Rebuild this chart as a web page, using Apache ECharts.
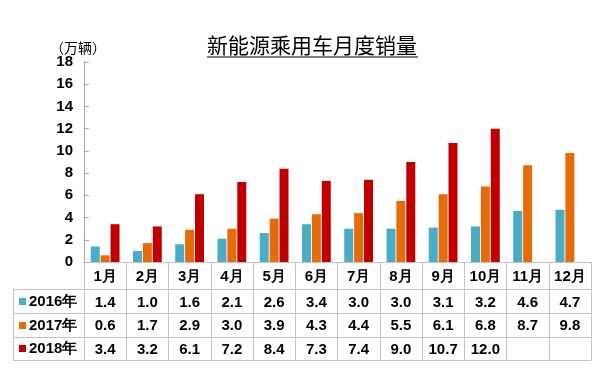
<!DOCTYPE html>
<html>
<head>
<meta charset="utf-8">
<script src="https://cdn.jsdelivr.net/npm/echarts@6/dist/echarts.min.js"></script>
<style>
html,body{margin:0;padding:0;background:#fff;}
#chart{width:600px;height:369px;}
</style>
</head>
<body>
<div id="chart"></div>
<script>
var months = ['1月','2月','3月','4月','5月','6月','7月','8月','9月','10月','11月','12月'];
var seriesNames = ['2016年','2017年','2018年'];
var s2016 = [1.4,1.0,1.6,2.1,2.6,3.4,3.0,3.0,3.1,3.2,4.6,4.7];
var s2017 = [0.6,1.7,2.9,3.0,3.9,4.3,4.4,5.5,6.1,6.8,8.7,9.8];
var s2018 = [3.4,3.2,6.1,7.2,8.4,7.3,7.4,9.0,10.7,12.0,null,null];
var yTicks = {min:0, max:18, interval:2};
var colors = ['#4bacc6','#e46c0a','#c00000'];
var titleText = '新能源乘用车月度销量';
var unitText = '（万辆）';

var chart = echarts.init(document.getElementById('chart'), null, {renderer:'canvas'});
var lineColor = '#c4c4c4';
var labelFont = {fontFamily:'Liberation Sans, Arial, sans-serif', fontWeight:'bold', fontSize:15, color:'#000'};
function fmt(v){ return v == null ? '' : v.toFixed(1); }
function valueAxis(data, offset, margin){
  return {
    type:'category', gridIndex:0, position:'bottom', offset:offset,
    data:data.map(fmt),
    axisLine:{show:true, lineStyle:{color:lineColor, width:1}},
    axisTick:{show:false},
    axisLabel:Object.assign({interval:0, margin:margin}, labelFont)
  };
}
var allData = [s2016, s2017, s2018];
var rowTops = [294, 318, 341];
var option = {
  animation:false,
  backgroundColor:'#fff',
  color:colors,
  title:[
    {text:titleText, left:207, top:35, padding:0,
     textStyle:{fontFamily:'Noto Sans CJK SC', fontSize:21, fontWeight:'normal', color:'#000'}},
    {text:unitText, left:50, top:41, padding:0,
     textStyle:{fontFamily:'Noto Sans CJK SC', fontSize:14, fontWeight:'normal', color:'#000'}}
  ],
  legend: seriesNames.map(function(n,i){
    return {data:[n], left:19, top:rowTops[i], padding:0, itemWidth:7, itemHeight:7, icon:'rect',
      selectedMode:false,
      textStyle:Object.assign({padding:[0,0,0,-2]}, labelFont)};
  }),
  grid:{left:84, right:9, top:62, bottom:107, containLabel:false},
  xAxis:[
    {type:'category', data:months, position:'bottom', offset:0,
     axisLine:{show:true, lineStyle:{color:lineColor}},
     axisTick:{show:true, length:98, interval:0, alignWithLabel:false, lineStyle:{color:lineColor}},
     axisLabel:Object.assign({interval:0, margin:7}, labelFont)},
    valueAxis(s2016, 27, 6),
    valueAxis(s2017, 51, 5),
    valueAxis(s2018, 75, 5),
    {type:'category', data:months, position:'bottom', offset:98,
     axisLine:{show:true, lineStyle:{color:lineColor}}, axisTick:{show:false}, axisLabel:{show:false}}
  ],
  yAxis:{
    type:'value', min:yTicks.min, max:yTicks.max, interval:yTicks.interval,
    axisLine:{show:true, lineStyle:{color:'#a6a6a6'}},
    axisTick:{show:true, inside:true, length:5, lineStyle:{color:'#a6a6a6'}},
    splitLine:{show:false},
    axisLabel:Object.assign({margin:11}, labelFont)
  },
  series: seriesNames.map(function(n,i){
    return {name:n, type:'bar', data:allData[i], barWidth:9, barGap:'10%', xAxisIndex:0,
      itemStyle:{color:colors[i]}};
  }),
  graphic:[
    {type:'line', shape:{x1:207, y1:57, x2:418, y2:57}, style:{stroke:'#000', lineWidth:1}},
    {type:'line', shape:{x1:13, y1:289.5, x2:84, y2:289.5}, style:{stroke:lineColor, lineWidth:1}},
    {type:'line', shape:{x1:13, y1:313.5, x2:84, y2:313.5}, style:{stroke:lineColor, lineWidth:1}},
    {type:'line', shape:{x1:13, y1:337.5, x2:84, y2:337.5}, style:{stroke:lineColor, lineWidth:1}},
    {type:'line', shape:{x1:13, y1:360.5, x2:84, y2:360.5}, style:{stroke:lineColor, lineWidth:1}},
    {type:'line', shape:{x1:13.5, y1:289.5, x2:13.5, y2:360.5}, style:{stroke:lineColor, lineWidth:1}}
  ]
};
chart.setOption(option);
</script>
</body>
</html>
